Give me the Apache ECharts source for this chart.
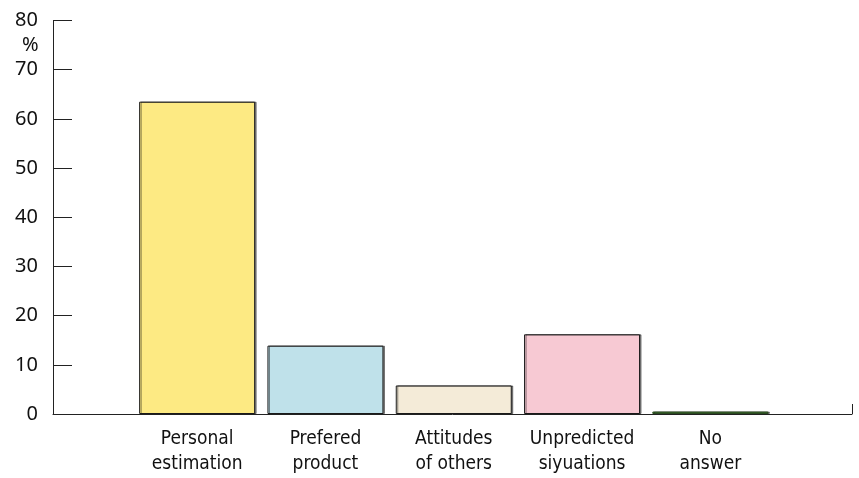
<!DOCTYPE html>
<html>
<head>
<meta charset="utf-8">
<script src="https://cdn.jsdelivr.net/npm/echarts@6/dist/echarts.min.js"></script>
<style>
  html, body { margin: 0; padding: 0; background: #fff; }
  #chart { width: 859px; height: 478px; }
</style>
</head>
<body>
<div id="chart"></div>
<script>
// Reasons given, share of respondents (%)
const categories = [
  'Personal\nestimation',
  'Prefered\nproduct',
  'Attitudes\nof others',
  'Unpredicted\nsiyuations',
  'No\nanswer'
];
const values = [63.5, 13.9, 5.8, 16.2, 0.5];
const barColors = ['#fdea83', '#bfe1ea', '#f4ebd8', '#f7c9d3', '#4f8a3c'];
const barBorders = ['#1a1a1a', '#1a1a1a', '#1a1a1a', '#1a1a1a', '#2a4a20'];
const yTicks = { min: 0, max: 80, interval: 10 };

const axisColor = '#222';
const tickFont = "'Noto Sans', 'Open Sans', sans-serif";
const labelFont = "'Liberation Sans Narrow', 'DejaVu Sans Condensed', sans-serif";

const chart = echarts.init(document.getElementById('chart'), null, { renderer: 'canvas' });

chart.setOption({
  animation: false,
  title: {
    text: '%',
    left: 17,
    top: 30,
    textStyle: { fontFamily: tickFont, fontSize: 20, fontWeight: 'normal', color: '#111' }
  },
  grid: [
    // frame grid: value axis and the long baseline
    { left: 53, right: 7, top: 20.5, bottom: 64 },
    // bar grid
    { left: 133, right: 84.5, top: 20.5, bottom: 64 }
  ],
  xAxis: [
    {
      gridIndex: 0,
      type: 'category',
      data: [''],
      boundaryGap: true,
      axisLine: { show: true, lineStyle: { color: axisColor, width: 1 } },
      axisTick: { show: true, inside: true, length: 10, lineStyle: { color: axisColor } },
      axisLabel: { show: false }
    },
    {
      gridIndex: 1,
      type: 'category',
      data: categories,
      axisLine: { show: false },
      axisTick: { show: false },
      axisLabel: {
        interval: 0,
        margin: 13,
        fontFamily: labelFont,
        fontSize: 19,
        lineHeight: 25,
        color: '#111'
      }
    }
  ],
  yAxis: [
    {
      gridIndex: 0,
      type: 'value',
      min: yTicks.min,
      max: yTicks.max,
      interval: yTicks.interval,
      axisLine: { show: true, lineStyle: { color: axisColor, width: 1 } },
      axisTick: { show: true, inside: true, length: 19, lineStyle: { color: axisColor } },
      splitLine: { show: false },
      axisLabel: { margin: 15, fontFamily: tickFont, fontSize: 20, color: '#111' }
    },
    {
      gridIndex: 1,
      type: 'value',
      min: yTicks.min,
      max: yTicks.max,
      interval: yTicks.interval,
      show: false,
      splitLine: { show: false }
    }
  ],
  series: [
    {
      type: 'bar',
      xAxisIndex: 1,
      yAxisIndex: 1,
      barWidth: 116,
      data: values.map((v, i) => ({
        value: v,
        itemStyle: { color: barColors[i], borderColor: barBorders[i] }
      })),
      itemStyle: {
        borderWidth: 1,
        shadowColor: 'rgba(0,0,0,0.45)',
        shadowOffsetX: 1.5,
        shadowOffsetY: 0,
        shadowBlur: 0
      }
    }
  ]
});
</script>
</body>
</html>
